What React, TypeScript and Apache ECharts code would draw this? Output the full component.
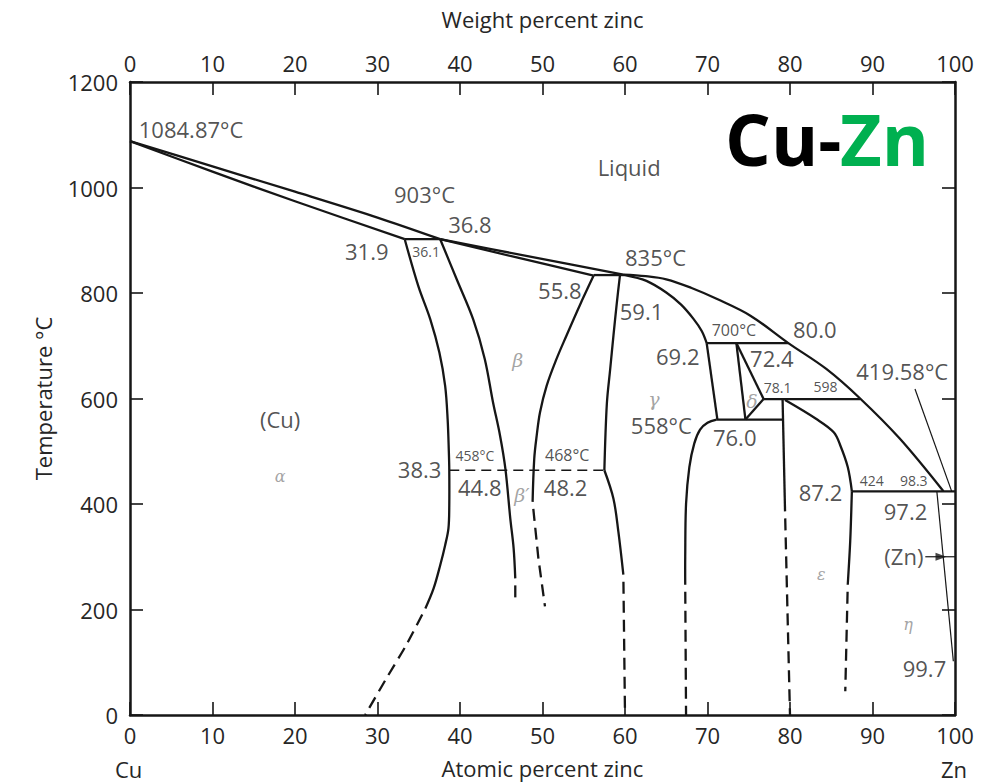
import React, { useEffect, useRef } from "react";
import * as echarts from "echarts";

const FONT = "'Open Sans', 'Noto Sans', sans-serif";
const SERIF = "'DejaVu Serif', 'Liberation Serif', serif";
const INK = "#161616";
const TEXT = "#262626";
const GREEK = "#8c8c8c";

// Phase boundaries: [atomic percent Zn, temperature °C]
const liquidusCu = [[0, 1088], [10, 1040], [20, 992], [30, 943], [37.6, 902]];
const solidusAlpha = [[0, 1088], [10, 1030], [20, 974], [33.3, 902]];
const peritectic903 = [[33.3, 902], [37.6, 902]];
const liquidusBeta = [[37.6, 902], [48.5, 869], [59.8, 835]];
const solidusBeta = [[37.6, 902], [47, 867], [56.2, 833]];
const peritectic835 = [[56.2, 834], [60, 834]];
const liquidusZn = [[59.8, 835], [62.5, 832], [65, 826], [68, 810], [71.1, 789], [75.2, 757], [79.8, 705], [84.4, 656], [88.5, 600], [93.3, 524], [98.6, 424]];
const solidusGamma = [[60, 834], [62.6, 823], [65, 801], [66.8, 778], [68.3, 751], [69.3, 728], [69.9, 705]];
const peritectic700 = [[69.9, 705], [79.8, 705]];
const gammaDelta = [[69.9, 705], [71.2, 560]];
const deltaLeft = [[73.5, 705], [74.6, 560]];
const deltaUpper = [[73.5, 705], [76.8, 599]];
const deltaLower = [[76.8, 599], [74.6, 560]];
const eutectoid558 = [[71.1, 560], [79.1, 560]];
const peritectic598 = [[76.8, 599], [88.5, 599]];
const epsilonLeft = [[79.1, 599], [79.4, 386]];
const epsilonLeftLow = [[79.4, 386], [80, 0]];
const epsilonRightUpper = [[79.4, 597], [83.2, 561], [85.3, 536], [86.1, 511], [87.0, 470], [87.5, 424]];
const epsilonRight = [[87.5, 424], [87.3, 330], [87.0, 247]];
const epsilonRightLow = [[87.0, 247], [86.7, 45]];
const peritectic424 = [[87.5, 424], [100, 424]];
const etaSolvus = [[97.8, 424], [99.8, 102]];
const alphaSolvus = [[33.3, 902], [34.95, 813], [36.4, 750], [37.5, 687], [38.2, 624], [38.5, 561], [38.65, 498], [38.7, 464], [38.7, 397], [38.6, 354], [38.2, 322], [37.6, 284], [36.8, 240], [35.8, 202]];
const alphaSolvusLow = [[35.8, 202], [33.5, 133], [31.1, 70], [28.5, 0]];
const betaLeft = [[37.6, 902], [39.6, 826], [41.6, 750], [43, 675], [44, 593], [44.85, 530], [45.5, 467], [46.1, 372], [46.5, 316], [46.7, 259]];
const betaLeftLow = [[46.7, 259], [46.7, 210]];
const betaRight = [[56.2, 833], [54.5, 776], [52.9, 719], [51.7, 675], [50.5, 624], [49.7, 574], [49.3, 530], [49.0, 486], [48.8, 404]];
const betaRightLow = [[48.8, 404], [49.5, 297], [50.3, 206]];
const gammaLeftUpper = [[59.4, 835], [59, 780], [58.6, 719], [58.2, 655], [57.8, 590], [57.5, 464]];
const gammaLeft = [[57.5, 464], [58.6, 410], [59.2, 347], [59.8, 266]];
const gammaLeftLow = [[59.8, 266], [60, 0]];
const gammaRight = [[71.1, 560], [70, 554], [69.1, 541], [68.4, 515], [67.8, 470], [67.4, 400], [67.3, 300], [67.3, 247]];
const gammaRightLow = [[67.3, 247], [67.4, 0]];
const orderDisorder = [[38.7, 464], [57.5, 464]];
const leader41958 = [[95.15, 618], [99.6, 424]];
const znArrow = [[96.4, 300], [100, 300]];
const znArrowHead = [[98.3, 300]];

// Annotations: [text, atomic % Zn, °C]
const bigLabels: [string, number, number][] = [
  ["1084.87°C", 7.4, 1111], ["903°C", 35.7, 987], ["36.8", 41.2, 930], ["31.9", 28.7, 879],
  ["Liquid", 60.5, 1038], ["835°C", 63.7, 869], ["55.8", 52.1, 805], ["59.1", 62.0, 766],
  ["80.0", 83.0, 732], ["69.2", 66.4, 680], ["72.4", 77.8, 677], ["419.58°C", 93.6, 653],
  ["558°C", 64.4, 550], ["76.0", 73.3, 527], ["(Cu)", 18.2, 561], ["38.3", 35.1, 467],
  ["44.8", 42.4, 432], ["48.2", 52.8, 432], ["87.2", 83.7, 422], ["97.2", 94.0, 387],
  ["(Zn)", 93.8, 301], ["99.7", 96.3, 89],
];
const mediumLabels: [string, number, number][] = [["700°C", 73.2, 729], ["468°C", 53.0, 492]];
const smallLabels: [string, number, number][] = [
  ["36.1", 35.9, 878], ["458°C", 41.8, 491], ["78.1", 78.5, 620], ["598", 84.3, 622],
  ["424", 89.9, 444], ["98.3", 95.0, 444],
];
const phaseLabelsLarge: [string, number, number][] = [["β", 47.0, 673], ["γ", 63.5, 599], ["δ", 75.4, 596], ["β′", 47.5, 417]];
const phaseLabelsSmall: [string, number, number][] = [["α", 18.2, 453], ["ε", 83.8, 267], ["η", 94.3, 171]];

type Kind = "solid" | "dashed" | "thin" | "thinDashed";

// Each boundary is one custom series; its points are mapped through the axes with api.coord
function curveSeries(data: number[][], kind: Kind, smooth = 0) {
  const style: any = { stroke: INK, lineWidth: 2.3, fill: "none", lineCap: "butt", lineJoin: "round" };
  if (kind === "dashed") { style.lineDash = [12, 7]; style.lineDashOffset = 12; }
  if (kind === "thin") { style.lineWidth = 1.2; }
  if (kind === "thinDashed") { style.lineWidth = 1.3; style.lineDash = [10, 6]; }
  return {
    type: "custom",
    coordinateSystem: "cartesian2d",
    data,
    silent: true,
    z: 3,
    renderItem: (params: any, api: any) => {
      if (params.dataIndex !== 0) return null;
      const points = data.map((d) => api.coord(d));
      return { type: "polyline", shape: { points, smooth }, style, silent: true };
    },
  };
}

function labelSeries(items: [string, number, number][], fontSize: number, color: string, family: string, italic = false) {
  return {
    type: "scatter", symbolSize: 0, silent: true, z: 5,
    data: items.map(([t, x, y]) => ({
      value: [x, y],
      label: {
        show: true, position: "inside", formatter: t, fontSize, color, fontFamily: family,
        fontStyle: italic ? "italic" : "normal", align: "center", verticalAlign: "middle",
      },
    })),
  };
}

const axisLine = { show: true, onZero: false, lineStyle: { color: INK, width: 2.5 } };
const axisTick = { show: true, inside: true, length: 13, lineStyle: { color: INK, width: 1.6 } };
const tickLabel = { color: TEXT, fontSize: 22, fontFamily: FONT, formatter: (v: number) => String(v) };
const nameStyle = { color: TEXT, fontSize: 22, fontFamily: FONT };

export default function App() {
  const ref = useRef<HTMLDivElement>(null);
  useEffect(() => {
    const chart = echarts.init(ref.current!, null, { renderer: "svg" });
    const option: any = {
      animation: false,
      backgroundColor: "#ffffff",
      grid: { left: 130, right: 38, top: 82, bottom: 67, containLabel: false },
      xAxis: [
        {
          type: "value", min: 0, max: 100, interval: 10, position: "bottom",
          axisLine, axisTick, axisLabel: { ...tickLabel, margin: 9 }, splitLine: { show: false },
          name: "Atomic percent zinc", nameLocation: "middle", nameGap: 42, nameTextStyle: nameStyle,
        },
        {
          type: "value", min: 0, max: 100, interval: 10, position: "top",
          axisLine, axisTick, axisLabel: { ...tickLabel, margin: 8 }, splitLine: { show: false },
          name: "Weight percent zinc", nameLocation: "middle", nameGap: 52, nameTextStyle: nameStyle,
        },
      ],
      yAxis: [
        {
          type: "value", min: 0, max: 1200, interval: 200, position: "left",
          axisLine, axisTick, axisLabel: { ...tickLabel, margin: 12 }, splitLine: { show: false },
          name: "Temperature °C", nameLocation: "middle", nameGap: 76, nameRotate: 90, nameTextStyle: nameStyle,
        },
        {
          type: "value", min: 0, max: 1200, interval: 200, position: "right",
          axisLine, axisTick, axisLabel: { show: false }, splitLine: { show: false },
        },
      ],
      series: [
        curveSeries(liquidusCu, "solid", 0.3),
        curveSeries(solidusAlpha, "solid", 0.3),
        curveSeries(peritectic903, "solid"),
        curveSeries(liquidusBeta, "solid", 0.3),
        curveSeries(solidusBeta, "solid", 0.3),
        curveSeries(peritectic835, "solid"),
        curveSeries(liquidusZn, "solid", 0.35),
        curveSeries(solidusGamma, "solid", 0.35),
        curveSeries(peritectic700, "solid"),
        curveSeries(gammaDelta, "solid"),
        curveSeries(deltaLeft, "solid"),
        curveSeries(deltaUpper, "solid"),
        curveSeries(deltaLower, "solid"),
        curveSeries(eutectoid558, "solid"),
        curveSeries(peritectic598, "solid"),
        curveSeries(epsilonLeft, "solid"),
        curveSeries(epsilonLeftLow, "dashed"),
        curveSeries(epsilonRightUpper, "solid", 0.35),
        curveSeries(epsilonRight, "solid", 0.3),
        curveSeries(epsilonRightLow, "dashed"),
        curveSeries(peritectic424, "solid"),
        curveSeries(etaSolvus, "thin"),
        curveSeries(alphaSolvus, "solid", 0.35),
        curveSeries(alphaSolvusLow, "dashed", 0.3),
        curveSeries(betaLeft, "solid", 0.35),
        curveSeries(betaLeftLow, "dashed"),
        curveSeries(betaRight, "solid", 0.35),
        curveSeries(betaRightLow, "dashed"),
        curveSeries(gammaLeftUpper, "solid", 0.35),
        curveSeries(gammaLeft, "solid", 0.35),
        curveSeries(gammaLeftLow, "dashed"),
        curveSeries(gammaRight, "solid", 0.35),
        curveSeries(gammaRightLow, "dashed"),
        curveSeries(orderDisorder, "thinDashed"),
        curveSeries(leader41958, "thin"),
        curveSeries(znArrow, "thin"),
        {
          type: "scatter", data: znArrowHead, symbol: "triangle", symbolSize: [8, 11], symbolRotate: -90,
          itemStyle: { color: INK }, silent: true, z: 4,
        },
        labelSeries(bigLabels, 22, TEXT, FONT),
        labelSeries(mediumLabels, 16, TEXT, FONT),
        labelSeries(smallLabels, 14, TEXT, FONT),
        labelSeries(phaseLabelsLarge, 19, GREEK, SERIF, true),
        labelSeries(phaseLabelsSmall, 16, GREEK, SERIF, true),
      ],
      graphic: [
        { type: "text", left: 115, top: 758, style: { text: "Cu", fontSize: 22, fontFamily: FONT, fill: TEXT } },
        { type: "text", left: 941, top: 758, style: { text: "Zn", fontSize: 22, fontFamily: FONT, fill: TEXT } },
        { type: "text", left: 725, top: 102, style: { text: "Cu-", fontSize: 72, fontWeight: "bold", fontFamily: FONT, fill: "#000000" } },
        { type: "text", left: 840, top: 102, style: { text: "Zn", fontSize: 72, fontWeight: "bold", fontFamily: FONT, fill: "#00B050" } },
      ],
    };
    chart.setOption(option);
    return () => chart.dispose();
  }, []);
  return (
    <div
      ref={ref}
      style={{ position: "fixed", left: 0, top: 0, width: 993, height: 784, background: "#ffffff" }}
    />
  );
}
